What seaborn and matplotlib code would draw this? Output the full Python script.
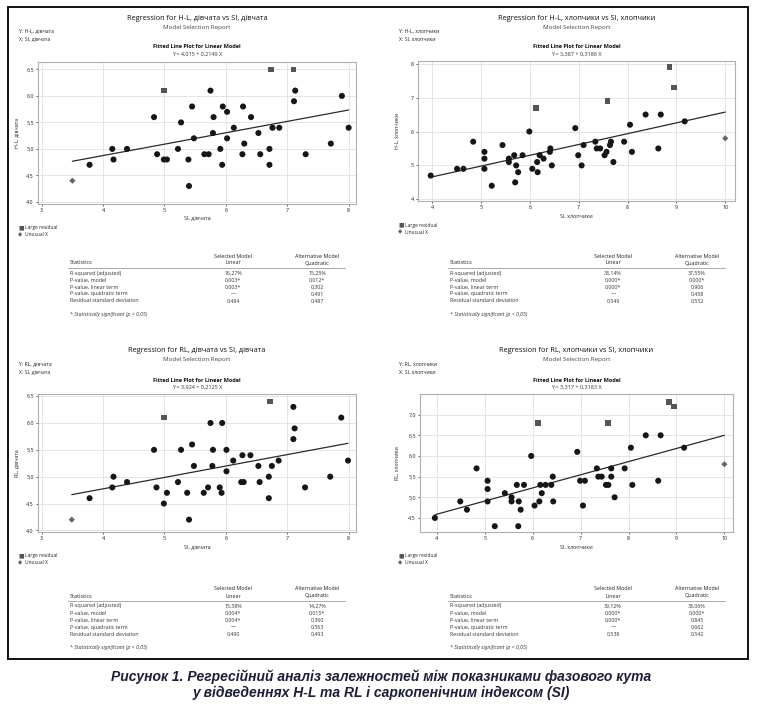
"""
Regression panels: phase angle (H-L, RL) vs sarcopenic index (SI)
"""

import numpy as np
import pandas as pd
import seaborn as sns
import matplotlib.pyplot as plt
from matplotlib.lines import Line2D
from matplotlib.patches import Rectangle

# -----------------------------
# Data
# -----------------------------
# kind: n = normal point, r = large residual, u = unusual X
hl_girls_si = [3.50, 3.78, 4.15, 4.17, 4.39, 4.83, 4.88, 4.99, 4.99, 5.04, 5.22, 5.27, 5.39, 5.40,
               5.45, 5.48, 5.65, 5.72, 5.75, 5.79, 5.80, 5.91, 5.94, 5.95, 6.02, 6.02, 6.13, 6.27,
               6.28, 6.30, 6.41, 6.53, 6.56, 6.71, 6.71, 6.73, 6.76, 6.87, 7.10, 7.11, 7.13, 7.30,
               7.71, 7.89, 8.00]
hl_girls_val = [4.4, 4.7, 5.0, 4.8, 5.0, 5.6, 4.9, 6.1, 4.8, 4.8, 5.0, 5.5, 4.8, 4.3,
                5.8, 5.2, 4.9, 4.9, 6.1, 5.3, 5.6, 5.0, 4.7, 5.8, 5.7, 5.2, 5.4, 4.9,
                5.8, 5.1, 5.6, 5.3, 4.9, 5.0, 4.7, 6.5, 5.4, 5.4, 6.5, 5.9, 6.1, 4.9,
                5.1, 6.0, 5.4]
hl_girls_kind = ['u', 'n', 'n', 'n', 'n', 'n', 'n', 'r', 'n', 'n', 'n', 'n', 'n', 'n',
                 'n', 'n', 'n', 'n', 'n', 'n', 'n', 'n', 'n', 'n', 'n', 'n', 'n', 'n',
                 'n', 'n', 'n', 'n', 'n', 'n', 'n', 'r', 'n', 'n', 'r', 'n', 'n', 'n',
                 'n', 'n', 'n']

hl_boys_si = [3.97, 4.51, 4.64, 4.84, 5.07, 5.07, 5.07, 5.22, 5.44, 5.57, 5.57, 5.68, 5.70, 5.72,
              5.76, 5.85, 5.99, 6.05, 6.13, 6.15, 6.16, 6.20, 6.28, 6.41, 6.42, 6.45, 6.93, 6.99,
              7.06, 7.10, 7.34, 7.37, 7.44, 7.53, 7.57, 7.59, 7.64, 7.66, 7.71, 7.93, 8.05, 8.09,
              8.37, 8.63, 8.68, 8.86, 8.95, 9.17, 10.0]
hl_boys_val = [4.7, 4.9, 4.9, 5.7, 5.4, 5.2, 4.9, 4.4, 5.6, 5.2, 5.1, 5.3, 4.5, 5.0,
               4.8, 5.3, 6.0, 4.9, 6.7, 5.1, 4.8, 5.3, 5.2, 5.4, 5.5, 5.0, 6.1, 5.3,
               5.0, 5.6, 5.7, 5.5, 5.5, 5.3, 5.4, 6.9, 5.6, 5.7, 5.1, 5.7, 6.2, 5.4,
               6.5, 5.5, 6.5, 7.9, 7.3, 6.3, 5.8]
hl_boys_kind = ['n'] * 18 + ['r'] + ['n'] * 16 + ['r'] + ['n'] * 9 + ['r', 'r', 'n', 'u']

rl_girls_si = [3.49, 3.78, 4.15, 4.17, 4.39, 4.83, 4.87, 4.99, 4.99, 5.04, 5.22, 5.27, 5.37, 5.40,
               5.45, 5.48, 5.64, 5.71, 5.75, 5.78, 5.79, 5.90, 5.93, 5.94, 6.01, 6.01, 6.12, 6.25,
               6.29, 6.27, 6.40, 6.53, 6.55, 6.70, 6.70, 6.72, 6.75, 6.86, 7.10, 7.12, 7.10, 7.29,
               7.70, 7.88, 7.99]
rl_girls_val = [4.2, 4.6, 4.8, 5.0, 4.9, 5.5, 4.8, 4.5, 6.1, 4.7, 4.9, 5.5, 4.7, 4.2,
                5.6, 5.2, 4.7, 4.8, 6.0, 5.2, 5.5, 4.8, 4.7, 6.0, 5.1, 5.5, 5.3, 4.9,
                4.9, 5.4, 5.4, 5.2, 4.9, 5.0, 4.6, 6.4, 5.2, 5.3, 6.3, 5.9, 5.7, 4.8,
                5.0, 6.1, 5.3]
rl_girls_kind = ['u'] + ['n'] * 7 + ['r'] + ['n'] * 26 + ['r'] + ['n'] * 9

rl_boys_si = [3.96, 4.49, 4.63, 4.83, 5.06, 5.06, 5.06, 5.21, 5.42, 5.56, 5.56, 5.67, 5.70, 5.71,
              5.75, 5.82, 5.97, 6.04, 6.11, 6.14, 6.16, 6.19, 6.27, 6.39, 6.42, 6.43, 6.93, 6.99,
              7.05, 7.09, 7.34, 7.37, 7.44, 7.53, 7.58, 7.57, 7.64, 7.64, 7.71, 7.92, 8.05, 8.08,
              8.36, 8.62, 8.67, 8.85, 8.95, 9.16, 10.0]
rl_boys_val = [4.5, 4.9, 4.7, 5.7, 5.4, 5.2, 4.9, 4.3, 5.1, 5.0, 4.9, 5.3, 4.3, 4.9,
               4.7, 5.3, 6.0, 4.8, 6.8, 4.9, 5.3, 5.1, 5.3, 5.3, 5.5, 4.9, 6.1, 5.4,
               4.8, 5.4, 5.7, 5.5, 5.5, 5.3, 5.3, 6.8, 5.5, 5.7, 5.0, 5.7, 6.2, 5.3,
               6.5, 5.4, 6.5, 7.3, 7.2, 6.2, 5.8]
rl_boys_kind = ['n'] * 18 + ['r'] + ['n'] * 16 + ['r'] + ['n'] * 9 + ['r', 'r', 'n', 'u']

# fitted line: intercept, slope
fit_intercept = [4.015, 3.387, 3.924, 3.317]
fit_slope = [0.2149, 0.3186, 0.2125, 0.3183]
equations = ['Y = 4,015 + 0,2149 X', 'Y = 3,387 + 0,3186 X',
             'Y = 3,924 + 0,2125 X', 'Y = 3,317 + 0,3183 X']

titles = ['Regression for H-L, дівчата vs SI, дівчата', 'Regression for H-L, хлопчики vs SI, хлопчики',
          'Regression for RL, дівчата vs SI, дівчата', 'Regression for RL, хлопчики vs SI, хлопчики']
y_names = ['H-L, дівчата', 'H-L, хлопчики', 'RL, дівчата', 'RL, хлопчики']
x_names = ['SI, дівчата', 'SI, хлопчики', 'SI, дівчата', 'SI, хлопчики']

stat_rows = ['R-squared (adjusted)', 'P-value, model', 'P-value, linear term',
             'P-value, quadratic term', 'Residual standard deviation']
linear_vals = [['16,27%', '0,003*', '0,003*', '—', '0,484'],
               ['38,14%', '0,000*', '0,000*', '—', '0,549'],
               ['15,58%', '0,004*', '0,004*', '—', '0,490'],
               ['39,12%', '0,000*', '0,000*', '—', '0,538']]
quad_vals = [['15,25%', '0,012*', '0,302', '0,491', '0,487'],
             ['37,55%', '0,000*', '0,906', '0,458', '0,552'],
             ['14,27%', '0,015*', '0,360', '0,563', '0,493'],
             ['38,06%', '0,000*', '0,845', '0,662', '0,542']]

caption = ['Рисунок 1. Регресійний аналіз залежностей між показниками фазового кута',
           'у відведеннях H-L та RL і саркопенічним індексом (SI)']

# -----------------------------
# Layout (pixels)
# -----------------------------
W, H = 758, 713
origins = [(0, 0), (380, 0), (0, 333), (380, 333)]
boxes = [(38, 62, 356, 203.5), (418, 61, 735, 201), (38, 394, 356, 532), (420, 394, 733, 532)]
xlims = [(2.94, 8.12), (3.71, 10.2), (2.94, 8.12), (3.65, 10.18)]
ylims = [(3.97, 6.64), (3.95, 8.08), (3.97, 6.54), (4.16, 7.5)]
xticks = [[3, 4, 5, 6, 7, 8], [4, 5, 6, 7, 8, 9, 10], [3, 4, 5, 6, 7, 8], [4, 5, 6, 7, 8, 9, 10]]
yticks = [[4.0, 4.5, 5.0, 5.5, 6.0, 6.5], [4, 5, 6, 7, 8],
          [4.0, 4.5, 5.0, 5.5, 6.0, 6.5], [4.5, 5.0, 5.5, 6.0, 6.5, 7.0]]
ytick_fmt = ['{:.1f}', '{:.0f}', '{:.1f}', '{:.1f}']

sns.set_theme(style='white')
plt.rcParams['font.family'] = ['Open Sans', 'DejaVu Sans']

fig = plt.figure(figsize=(W / 100, H / 100), dpi=100)


def fx(px):
    return px / W


def fy(py):
    return 1 - py / H


def txt(px, py, s, size, **kw):
    fig.text(fx(px), fy(py), s, fontsize=size, va='center', **kw)


panels = [
    (hl_girls_si, hl_girls_val, hl_girls_kind),
    (hl_boys_si, hl_boys_val, hl_boys_kind),
    (rl_girls_si, rl_girls_val, rl_girls_kind),
    (rl_boys_si, rl_boys_val, rl_boys_kind),
]

for i, (xs, ys, kinds) in enumerate(panels):
    ox, oy = origins[i]
    l, t, r, b = boxes[i]
    cx = (l + r) / 2
    ax = fig.add_axes([fx(l), fy(b), (r - l) / W, (b - t) / H])

    df = pd.DataFrame({'x': xs, 'y': ys, 'kind': kinds})
    sns.scatterplot(data=df, x='x', y='y', hue='kind', style='kind',
                    markers={'n': 'o', 'r': 's', 'u': 'D'},
                    palette={'n': '#161616', 'r': '#555555', 'u': '#666666'},
                    size='kind', sizes={'n': 19, 'r': 17, 'u': 10},
                    linewidth=0, legend=False, ax=ax, zorder=3)

    lx = np.array([min(xs), max(xs)])
    sns.lineplot(x=lx, y=fit_intercept[i] + fit_slope[i] * lx, color='#2a2a2a',
                 linewidth=0.9, ax=ax, zorder=2)

    ax.set_xlim(*xlims[i])
    ax.set_ylim(*ylims[i])
    ax.set_xticks(xticks[i])
    ax.set_yticks(yticks[i])
    ax.set_xticklabels([str(v) for v in xticks[i]])
    ax.set_yticklabels([ytick_fmt[i].format(v).replace('.', ',') for v in yticks[i]])
    ax.tick_params(labelsize=3.9, colors='#222222', length=1.5, width=0.5, pad=1.5,
                   bottom=True, left=True)
    ax.grid(True, color='#e0e0e0', linewidth=0.6)
    ax.set_axisbelow(True)
    for sp in ax.spines.values():
        sp.set_color('#b0b0b0')
        sp.set_linewidth(0.8)
    ax.set_xlabel('')
    ax.set_ylabel('')

    # headers
    txt(cx, oy + 18, titles[i], 5.3, ha='center', color='#111111')
    txt(cx, oy + 27, 'Model Selection Report', 4.5, ha='center', color='#444444')
    txt(ox + 19, oy + 31, 'Y: ' + y_names[i], 3.7, ha='left', color='#222222')
    txt(ox + 19, oy + 39, 'X: ' + x_names[i], 3.7, ha='left', color='#222222')
    txt(cx, oy + 47, 'Fitted Line Plot for Linear Model', 4.0, ha='center',
        color='#111111', fontweight='bold')
    txt(cx, oy + 54.5, equations[i], 4.0, ha='center', color='#333333')

    # axis labels
    txt(ox + 17, (t + b) / 2, y_names[i], 3.8, ha='center', rotation=90, color='#222222')
    txt(cx, b + 15, x_names[i], 3.9, ha='center', color='#222222')

    # point legend
    txt(ox + 18, b + 24, '■', 4.2, ha='left', color='#555555', family='DejaVu Sans')
    txt(ox + 25, b + 24, 'Large residual', 3.5, ha='left', color='#222222')
    txt(ox + 18, b + 31, '◆', 4.0, ha='left', color='#666666', family='DejaVu Sans')
    txt(ox + 25, b + 31, 'Unusual X', 3.5, ha='left', color='#222222')

    # statistics table
    c1, c2 = ox + 233, ox + 317
    txt(c1, oy + 256, 'Selected Model', 3.9, ha='center', color='#222222')
    txt(c1, oy + 263, 'Linear', 3.9, ha='center', color='#222222')
    txt(c2, oy + 256, 'Alternative Model', 3.9, ha='center', color='#222222')
    txt(c2, oy + 263, 'Quadratic', 3.9, ha='center', color='#222222')
    txt(ox + 70, oy + 263, 'Statistics', 4.0, ha='left', color='#222222')
    fig.add_artist(Line2D([fx(ox + 68), fx(ox + 345)], [fy(oy + 267.5)] * 2,
                          color='#8a8a8a', linewidth=0.5))
    for j, row in enumerate(stat_rows):
        ry = oy + 273 + 7 * j
        txt(ox + 70, ry, row, 3.8, ha='left', color='#333333')
        txt(c1, ry, linear_vals[i][j], 3.8, ha='center', color='#333333')
        txt(c2, ry, quad_vals[i][j], 3.8, ha='center', color='#333333')
    txt(ox + 70, oy + 314, '* Statistically significant (p < 0,05)', 3.7, ha='left',
        color='#333333', style='italic')

# outer frame
fig.add_artist(Rectangle((fx(8), fy(659)), (748 - 8) / W, (659 - 7) / H, fill=False,
                         edgecolor='#111111', linewidth=1.4, transform=fig.transFigure))

# caption
for k, line in enumerate(caption):
    fig.text(fx(381), fy(677 + 16 * k), line, fontsize=10.0, ha='center', va='center',
             family=['Liberation Sans', 'DejaVu Sans'], fontweight='bold', style='italic',
             color='#1e1e38')

fig.savefig('out.png', dpi=100)
